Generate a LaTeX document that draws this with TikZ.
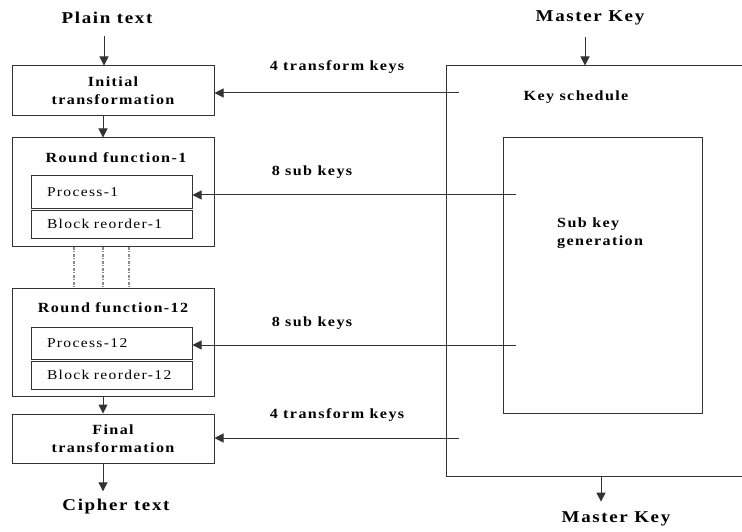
\documentclass[tikz,border=0pt]{standalone}
\usepackage{fontspec}
\setmainfont{Liberation Serif}[LetterSpace=10,FakeStretch=1.15]
\usepackage{tikz}
\usetikzlibrary{positioning}
\usetikzlibrary{arrows.meta}
\tikzstyle{stagebox}=[draw=black!80,line width=1pt,minimum width=202pt,inner sep=0pt,align=center,font=\fontsize{14}{18}\selectfont\bfseries]
\tikzstyle{stepbox}=[draw=black!80,line width=1pt,inner xsep=16pt,inner ysep=0pt,text width=129pt,text height=9.5pt,text depth=1pt,align=left,font=\fontsize{13.5}{15}\selectfont]
\tikzstyle{keybox}=[draw=black!80,line width=1pt,inner sep=0pt]
\tikzstyle{iolabel}=[font=\fontsize{16.5}{18}\selectfont\bfseries,inner sep=0pt]
\tikzstyle{keylabel}=[font=\fontsize{14}{18}\selectfont\bfseries,inner sep=0pt]
\tikzstyle{arr}=[draw=black!80,line width=1pt,-{Triangle[length=9pt,width=9pt]}]
\tikzstyle{dots}=[draw=black!45,line width=1.3pt,dash pattern=on 3pt off 1.5pt on 1pt off 1.5pt]

\begin{document}
\begin{tikzpicture}[x=1pt,y=-1pt]
    \path[use as bounding box,clip] (0,0) rectangle (742,532);
    % Cipher side: the stages down the left
    \node[stagebox,minimum height=50pt] (init) at (113,91) {Initial\\transformation};
    \node[stagebox,minimum height=108pt] (round1) at (113,192) {};
    \node[stagebox,minimum height=108pt] (round12) at (113,342) {};
    \node[stagebox,minimum height=49pt] (final) at (113,438.5) {Final\\transformation};
    \node[keylabel] at (116,158) {Round function-1};
    \node[keylabel] at (113,308) {Round function-12};
    % the two steps inside each round
    \foreach \pos/\name/\txt/\boxh in {{(111.5,192)/proc1/Process-1/32}, {(111.5,224)/reord1/Block reorder-1/28},
                                   {(111.5,343)/proc12/Process-12/32}, {(111.5,375)/reord12/Block reorder-12/28}}
        \node[stepbox,minimum height=\boxh pt] (\name) at \pos {\txt};
    % rounds 2..11 left out
    \foreach \dx in {-39,-10,16}
        \path[dots] ([xshift=\dx pt]round1.south) -- ([xshift=\dx pt]round12.north);

    % Key side
    \node[keybox,minimum width=314pt,minimum height=410pt] (keysched) at (603,271) {};
    \node[keybox,minimum width=199pt,minimum height=275pt] (subkey) at (602.5,275.5) {};
    \node[keylabel] at (576,97) {Key schedule};
    \node[keylabel,align=left,anchor=west] at (557,233) {Sub key\\generation};

    % In and out
    \node[iolabel] (plain) at (107,18) {Plain text};
    \node[iolabel] (cipher) at (116,507) {Cipher text};
    \node[iolabel] (mkin) at (590,18) {Master Key};
    \node[iolabel] (mkout) at (616,519) {Master Key};

    % Flow through the stages
    \path[arr,shorten <=12pt] ([xshift=-3pt]plain.south) -- ([xshift=-3pt]plain.south |- init.north);
    \foreach \source/\dest in {init/round1, round12/final}
        \path[arr] ([xshift=-10pt]\source.south) -- ([xshift=-10pt]\dest.north);
    \path[arr,shorten >=8pt] ([xshift=-10pt]final.south) -- ([xshift=-10pt]final.south |- cipher.north);
    \path[arr,shorten <=12pt] ([xshift=-5pt]mkin.south) -- ([xshift=-5pt]mkin.south |- keysched.north);
    \path[arr,shorten >=10pt] ([xshift=-2pt]keysched.south) -- ([xshift=-2pt]keysched.south |- mkout.north);

    % Keys handed to the stages
    \coordinate (tk1) at (459,93);
    \coordinate (sk1) at (516,195);
    \coordinate (sk12) at (516,345);
    \coordinate (tk2) at (459,438);
    \foreach \source/\dest/\weight/\lpos in {tk1/init/4 transform keys/{(337,67)}, sk1/proc1/8 sub keys/{(312,172)},
                                             sk12/proc12/8 sub keys/{(312,323)}, tk2/final/4 transform keys/{(337,415)}}
    {
        \path[arr] (\source) -- (\source -| \dest.east);
        \node[keylabel] at \lpos {\weight};
    }
\end{tikzpicture}
\end{document}
